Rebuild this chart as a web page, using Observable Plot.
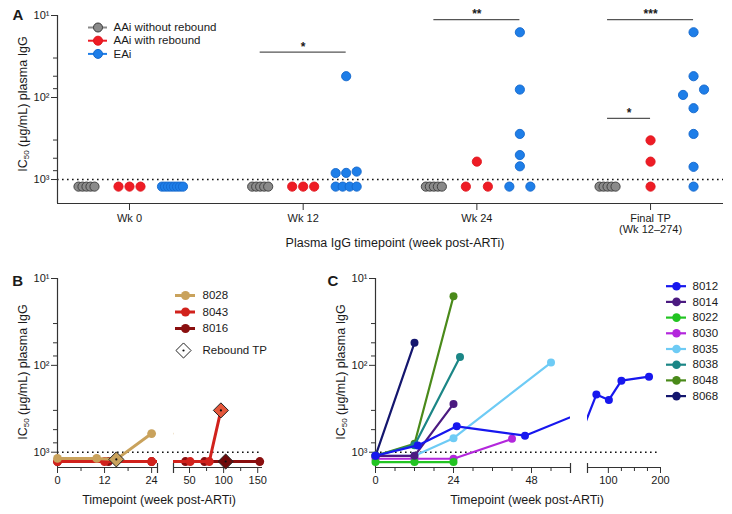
<!DOCTYPE html>
<html><head><meta charset="utf-8">
<script src="https://cdn.jsdelivr.net/npm/d3@7"></script>
<script src="https://cdn.jsdelivr.net/npm/@observablehq/plot@0.6"></script>
<style>
body{margin:0;background:#fff;}
#fig{position:relative;width:732px;height:514px;overflow:hidden;font-family:"Liberation Sans",Arial,Helvetica,sans-serif;color:#1a1a1a;background:#fff;}
.lbl{position:absolute;white-space:nowrap;transform:translate(-50%,-50%);line-height:1;}
.ytl{position:absolute;white-space:nowrap;transform:translate(-50%,-50%) rotate(-90deg);line-height:1;font-size:12.5px;}
.ytl sub{font-size:8px;vertical-align:-2px;line-height:0;}
.panel{position:absolute;font-weight:bold;font-size:15px;transform:translate(-50%,-50%);line-height:1;}
</style></head><body><div id="fig"></div>
<script>
// ================= DATA =================
// Panel A
const timepoints = ["Wk 0", "Wk 12", "Wk 24", "Final TP\n(Wk 12–274)"];
const cohorts = ["AAi without rebound", "AAi with rebound", "EAi"];
const ND = 1220; // below detection, plotted under the dotted line
const aaiWithout = [[ND,ND,ND,ND,ND],[ND,ND,ND,ND,ND],[ND,ND,ND,ND,ND],[ND,ND,ND,ND,ND]];
const aaiWith = [[ND,ND,ND],[ND,ND,ND],[ND,605,ND],[333,605,ND]];
const eai = [[ND,ND,ND,ND,ND,ND,ND,ND],[835,ND,ND,ND,ND,830,800,55],[503,278,ND,ND,690,80,16],[135,278,ND,700,93,80,16,55]];
const sigTimepoint = [1, 2, 3, 3];
const sigFrom = [0, 0, 0, 0];
const sigTo = [2, 2, 2, 1];
const sigLabel = ["*", "**", "***", "*"];
const sigLevel = [28, 11.2, 11.2, 180];
const yMajorTicks = [10, 100, 1000];
const yMajorLabels = ["10¹", "10²", "10³"];
const yMinorTicks = [33, 55, 78, 330, 550, 780];

// Panel B
const bIds = ["8028", "8043", "8016"];
const bWeeks = [[0,10,15,24],[0,12,24,51,79,96],[0,13,24,44,72,103,153]];
const bValues = [[1180,1180,1210,610],[1280,1280,1280,1280,1280,330],[1280,1280,1280,1280,1280,1280,1280]];
const bReboundWeek = [15, 96, 103];

// Panel C
const cIds = ["8012","8014","8022","8030","8035","8038","8048","8068"];
const cWeeks = [[0,13,25,46,77,101,125,178],[0,12,24],[0,12,24],[0,12,24,42],[0,12,24,54],[0,12,26],[0,12,24],[0,12]];
const cValues = [[1100,835,503,645,217,250,150,135],[1100,1100,278],[1300,1300,1300],[1190,1190,1190,702],[1100,1100,690,93],[1100,830,80],[1100,800,16],[1100,55]];

// ================= STYLES =================
const cohortFill = ["#8a8a8a", "#ee1c25", "#1e7ee8"];
const cohortStroke = ["#3a3a3a", "#e0161e", "#1468cc"];
const bColors = ["#c9a25c", "#d1221c", "#8a0f0f"];
const bReboundFill = ["#c9a25c", "#e5573b", "#6e0b0b"];
const cColors = ["#1717ee","#4b1a80","#22c422","#b327dc","#6ecbf5","#1b8686","#4a8a1a","#14166e"];
const FONT = '"Liberation Sans", Arial, Helvetica, sans-serif';
const baseStyle = {background: "transparent", overflow: "visible", fontFamily: FONT, fontSize: "11px", color: "#1a1a1a"};
const fig = document.getElementById("fig");
function place(el, left, top) { el.style.position = "absolute"; el.style.left = left + "px"; el.style.top = top + "px"; fig.appendChild(el); }
function html(cls, content, x, y, extra = "") {
  const d = document.createElement("div"); d.className = cls; d.innerHTML = content;
  d.style.cssText += `left:${x}px;top:${y}px;${extra}`; fig.appendChild(d);
}
const supLabel = d => yMajorLabels[yMajorTicks.indexOf(d)];

function swarmOffsets(vals, width, pxPerDecade, diam) {
  const order = vals.map((_, i) => i).sort((a, b) => vals[a] - vals[b] || a - b);
  const clusters = [];
  for (const i of order) {
    const last = clusters[clusters.length - 1];
    if (last && Math.abs(Math.log10(vals[i]) - Math.log10(vals[last[last.length - 1]])) * pxPerDecade < diam) last.push(i);
    else clusters.push([i]);
  }
  const off = new Array(vals.length).fill(0);
  for (const c of clusters) {
    c.sort((a, b) => a - b);
    const n = c.length, s = n > 1 ? width / (n - 1) : 0;
    c.forEach((i, m) => off[i] = (m - (n - 1) / 2) * s);
  }
  return off;
}

// ================= PANEL A =================
(function () {
  const W = 732, H = 258, ml = 57, mr = 9, mt = 15, mb = H - 203;
  const xDom = [-0.4145, 3.42], yDom = [10, 1960];
  const pxPerUnit = (W - ml - mr) / (xDom[1] - xDom[0]);
  const pxPerDecade = (H - mt - mb) / (Math.log10(yDom[1]) - Math.log10(yDom[0]));
  const groupOffsetPx = [-43, 0, 43];
  const groupWidthPx = [16, 22, 21];
  const series = [aaiWithout, aaiWith, eai];
  const pts = [];
  series.forEach((byTp, g) => byTp.forEach((vals, t) => {
    const off = swarmOffsets(vals, groupWidthPx[g], pxPerDecade, 9);
    vals.forEach((v, i) => pts.push({g, v, x: t + (groupOffsetPx[g] + off[i]) / pxPerUnit}));
  }));
  const sig = sigTimepoint.map((t, i) => ({
    x1: t + groupOffsetPx[sigFrom[i]] / pxPerUnit,
    x2: t + groupOffsetPx[sigTo[i]] / pxPerUnit,
    y: sigLevel[i], label: sigLabel[i]
  }));
  const p = Plot.plot({
    width: W, height: H, marginLeft: ml, marginRight: mr, marginTop: mt, marginBottom: mb,
    x: {domain: xDom, label: null},
    y: {type: "log", domain: yDom, reverse: true, label: null},
    style: baseStyle,
    marks: [
      Plot.ruleY([1000], {stroke: "#111", strokeWidth: 1.6, strokeDasharray: "1.6,3.4"}),
      Plot.ruleY([yDom[1]], {stroke: "#333", strokeWidth: 1.2}),
      Plot.ruleX([xDom[0]], {stroke: "#333", strokeWidth: 1.2}),
      Plot.axisY(yMajorTicks, {tickSize: 6, tickPadding: 2, tickFormat: supLabel, stroke: "#333"}),
      Plot.axisY(yMinorTicks, {tickSize: 4, tickFormat: () => "", stroke: "#333"}),
      Plot.axisX([0, 1, 2, 3], {tickSize: 7, tickPadding: 4, tickFormat: i => timepoints[i], stroke: "#333"}),
      Plot.ruleY(sig, {y: "y", x1: "x1", x2: "x2", stroke: "#555", strokeWidth: 1.3}),
      Plot.text(sig, {x: d => (d.x1 + d.x2) / 2, y: "y", text: "label", fontSize: 12, fontWeight: "bold", dy: -5, fill: "#1a1a1a"}),
      ...cohorts.map((c, g) => Plot.dot(pts.filter(d => d.g === g), {x: "x", y: "v", r: 4.6, fill: cohortFill[g], stroke: cohortStroke[g], strokeWidth: 0.9}))
    ]
  });
  place(p, 0, 0);
})();

// ================= LEGENDS =================
function legend(rows, {left, top, width, height, y0, rowH, x1, x2, textX, lineWidth, r}) {
  const n = rows.length;
  const items = rows.map((row, i) => ({...row, i}));
  const marks = [];
  items.forEach(row => {
    const d = [row];
    if (row.line !== false) marks.push(Plot.ruleY(d, {y: "i", x1: () => x1, x2: () => x2, stroke: row.color, strokeWidth: lineWidth}));
    marks.push(Plot.dot(d, {y: "i", x: () => (x1 + x2) / 2, r: row.r ?? r, symbol: row.symbol ?? "circle", fill: row.fill ?? row.color, stroke: row.stroke ?? "none", strokeWidth: 1}));
    if (row.center) marks.push(Plot.dot(d, {y: "i", x: () => (x1 + x2) / 2, r: 1.1, fill: "#111"}));
    marks.push(Plot.text(d, {y: "i", x: () => textX, text: "name", textAnchor: "start", fontSize: 11.5, fill: "#1a1a1a"}));
  });
  const p = Plot.plot({
    width, height, margin: 0,
    x: {domain: [0, width], range: [0, width], axis: null},
    y: {domain: [0, Math.max(1, n - 1)], range: [y0, y0 + rowH * Math.max(1, n - 1)], axis: null},
    style: baseStyle,
    marks
  });
  place(p, left, top);
}
legend(cohorts.map((c, g) => ({name: c, color: cohortFill[g], stroke: cohortStroke[g]})),
  {left: 80, top: 20, width: 200, height: 45, y0: 7, rowH: 13.2, x1: 8, x2: 27, textX: 33, lineWidth: 2, r: 4.5});
legend(bIds.map((id, k) => ({name: id, color: bColors[k]})),
  {left: 170, top: 285, width: 80, height: 52, y0: 10, rowH: 16.5, x1: 5, x2: 25, textX: 32, lineWidth: 3, r: 4.5});
legend([{name: "Rebound TP", line: false, symbol: "diamond2", fill: "#fff", stroke: "#222", r: 6.8, center: true}],
  {left: 170, top: 335, width: 110, height: 30, y0: 15, rowH: 1, x1: 3, x2: 23, textX: 32, lineWidth: 0, r: 6.8});
legend(cIds.map((id, k) => ({name: id, color: cColors[k]})),
  {left: 660, top: 278, width: 72, height: 125, y0: 7.7, rowH: 15.7, x1: 6, x2: 26, textX: 32, lineWidth: 2.2, r: 4.3});

// ================= BROKEN-AXIS SEGMENTS (B, C) =================
const yDomBC = [10, 1500];
function segment(o) {
  const H = 252, mt = 278 - 262, mb = 514 - 467;
  const pxPerDecade = (H - mt - mb) / (Math.log10(yDomBC[1]) - 1);
  const pxPerWeek = (o.width - o.ml - o.mr) / (o.xDomain[1] - o.xDomain[0]);
  const rows = o.ids.map((id, k) => o.weeks[k].map((w, j) => ({w, v: o.values[k][j]})));
  const inDom = r => r.w >= o.xDomain[0] - 1e-9 && r.w <= o.xDomain[1] + 1e-9;
  const capTop = yDomBC[1] / Math.pow(10, 4 / pxPerDecade), capBot = yDomBC[1] * Math.pow(10, 6 / pxPerDecade);
  const marks = [
    Plot.ruleY([1000], {x1: () => o.xDomain[0] - o.gap / pxPerWeek, x2: () => o.xDomain[1], stroke: "#111", strokeWidth: 1.6, strokeDasharray: "1.6,3.4"}),
    Plot.ruleY([yDomBC[1]], {stroke: "#333", strokeWidth: 1.2}),
    Plot.axisX(o.major, {tickSize: 6, tickPadding: 3, stroke: "#333", tickFormat: d => String(d)}),
    Plot.axisX(o.minor, {tickSize: 4, tickFormat: () => "", stroke: "#333"}),
    Plot.ruleX([o.cap], {y1: () => capTop, y2: () => capBot, stroke: "#333", strokeWidth: 1.2})
  ];
  if (o.yAxis) marks.push(
    Plot.ruleX([o.xDomain[0]], {stroke: "#333", strokeWidth: 1.2}),
    Plot.axisY(yMajorTicks, {tickSize: 6, tickPadding: 2, tickFormat: supLabel, stroke: "#333"}),
    Plot.axisY(yMinorTicks, {tickSize: 4, tickFormat: () => "", stroke: "#333"})
  );
  for (let k = o.ids.length - 1; k >= 0; k--) {
    marks.push(Plot.line(rows[k], {x: "w", y: "v", stroke: o.colors[k], strokeWidth: o.lineWidth, clip: true}));
    marks.push(Plot.dot(rows[k].filter(inDom), {x: "w", y: "v", fill: o.colors[k], r: o.r}));
  }
  if (o.rebound) o.rebound.forEach((wk, k) => {
    const j = o.weeks[k].indexOf(wk);
    const d = [{w: wk, v: o.values[k][j]}].filter(inDom);
    marks.push(Plot.dot(d, {x: "w", y: "v", symbol: "diamond2", r: 6.8, fill: o.reboundFill[k], stroke: "#222", strokeWidth: 1}));
    marks.push(Plot.dot(d, {x: "w", y: "v", r: 1.1, fill: "#111"}));
  });
  const p = Plot.plot({
    width: o.width, height: H, marginLeft: o.ml, marginRight: o.mr, marginTop: mt, marginBottom: mb,
    x: {domain: o.xDomain, label: null},
    y: {type: "log", domain: yDomBC, reverse: true, label: null, axis: o.yAxis ? undefined : null},
    style: baseStyle,
    marks
  });
  place(p, o.left, 262);
}
// Panel B
segment({ids: bIds, weeks: bWeeks, values: bValues, colors: bColors, rebound: bReboundWeek, reboundFill: bReboundFill,
  left: 0, width: 157, ml: 57, mr: 0, xDomain: [0, 25.5], gap: 0, yAxis: true,
  major: [0, 12, 24], minor: [6, 18], cap: 25.5, lineWidth: 3, r: 4.4});
segment({ids: bIds, weeks: bWeeks, values: bValues, colors: bColors, rebound: bReboundWeek, reboundFill: bReboundFill,
  left: 157, width: 125, ml: 16, mr: 20, xDomain: [26.5, 157], gap: 16, yAxis: false,
  major: [50, 100, 150], minor: [75, 125], cap: 26.5, lineWidth: 3, r: 4.4});
// Panel C
segment({ids: cIds, weeks: cWeeks, values: cValues, colors: cColors,
  left: 320, width: 250, ml: 55, mr: 0, xDomain: [0, 60], gap: 0, yAxis: true,
  major: [0, 24, 48], minor: [6, 12, 18, 30, 36, 42, 54], cap: 60, lineWidth: 2.2, r: 4});
segment({ids: cIds, weeks: cWeeks, values: cValues, colors: cColors,
  left: 570, width: 162, ml: 17, mr: 72, xDomain: [60, 200], gap: 17, yAxis: false,
  major: [100, 200], minor: [125, 150, 175], cap: 60, lineWidth: 2.2, r: 4});

// ================= TITLES =================
html("panel", "A", 18, 13.5);
html("panel", "B", 17.7, 279.5);
html("panel", "C", 333, 279.5);
html("ytl", "IC<sub>50</sub> (μg/mL) plasma IgG", 23, 104);
html("ytl", "IC<sub>50</sub> (μg/mL) plasma IgG", 22.5, 372);
html("ytl", "IC<sub>50</sub> (μg/mL) plasma IgG", 341, 372);
html("lbl", "Plasma IgG timepoint (week post-ARTi)", 395, 243, "font-size:12.5px;");
html("lbl", "Timepoint (week post-ARTi)", 159, 500, "font-size:12.5px;");
html("lbl", "Timepoint (week post-ARTi)", 527, 500, "font-size:12.5px;");
</script></body></html>
